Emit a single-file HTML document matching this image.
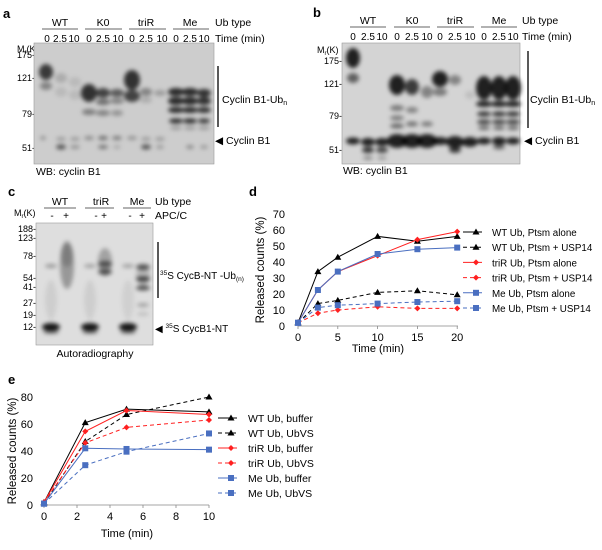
<!DOCTYPE html>
<html><head><meta charset="utf-8"><style>
body{margin:0;background:#fff;}
svg{display:block;font-family:"Liberation Sans",Arial,sans-serif;}
</style></head><body>
<svg id="fig" width="602" height="550" viewBox="0 0 602 550" xmlns="http://www.w3.org/2000/svg">
<defs>
<filter id="bl" x="-50%" y="-50%" width="200%" height="200%"><feGaussianBlur stdDeviation="2.1"/></filter>
</defs>

<!-- Panel a -->
<g font-size="10">
<text x="3" y="18" font-size="13" font-weight="bold">a</text>
<g text-anchor="middle">
<text x="60" y="26" font-size="10.5">WT</text><text x="103" y="26" font-size="10.5">K0</text><text x="146" y="26" font-size="10.5">triR</text><text x="190" y="26" font-size="10.5">Me</text>
<text x="47" y="42">0</text><text x="60" y="42">2.5</text><text x="74" y="42">10</text>
<text x="89" y="42">0</text><text x="103" y="42">2.5</text><text x="118" y="42">10</text>
<text x="132" y="42">0</text><text x="146" y="42">2.5</text><text x="162" y="42">10</text>
<text x="176" y="42">0</text><text x="190" y="42">2.5</text><text x="204" y="42">10</text>
</g>
<g stroke="#333" stroke-width="0.8"><line x1="42" y1="29" x2="78" y2="29"/><line x1="85" y1="29" x2="122" y2="29"/><line x1="129" y1="29" x2="166" y2="29"/><line x1="173" y1="29" x2="209" y2="29"/></g>
<text x="215" y="26" font-size="10.5">Ub type</text><text x="215" y="42" font-size="10.5">Time (min)</text>
<text x="17" y="52" font-size="9">M<tspan font-size="6" dy="2">r</tspan><tspan dy="-2">(K)</tspan></text>
<g text-anchor="end" font-size="9"><text x="35" y="58">175-</text><text x="35" y="81">121-</text><text x="35" y="117">79-</text><text x="35" y="151">51-</text></g>
<rect x="34" y="43" width="180" height="121" fill="#cdcdcd" stroke="#999" stroke-width="0.6"/>
<g id="bandsA" filter="url(#bl)"></g>
<line x1="218" y1="66" x2="218" y2="127" stroke="#000" stroke-width="1.3"/>
<text x="222" y="103" font-size="10.5">Cyclin B1-Ub<tspan font-size="7" dy="2">n</tspan></text>
<text x="215" y="144" font-size="10.5">◀ Cyclin B1</text>
<text x="36" y="175" font-size="10.5">WB: cyclin B1</text>
</g>

<!-- Panel b -->
<g font-size="10">
<text x="313" y="17" font-size="13" font-weight="bold">b</text>
<g text-anchor="middle">
<text x="368" y="24" font-size="10.5">WT</text><text x="412" y="24" font-size="10.5">K0</text><text x="455" y="24" font-size="10.5">triR</text><text x="499" y="24" font-size="10.5">Me</text>
<text x="353" y="40">0</text><text x="368" y="40">2.5</text><text x="382" y="40">10</text>
<text x="397" y="40">0</text><text x="412" y="40">2.5</text><text x="427" y="40">10</text>
<text x="440" y="40">0</text><text x="455" y="40">2.5</text><text x="470" y="40">10</text>
<text x="484" y="40">0</text><text x="499" y="40">2.5</text><text x="513" y="40">10</text>
</g>
<g stroke="#333" stroke-width="0.8"><line x1="350" y1="27" x2="386" y2="27"/><line x1="394" y1="27" x2="430" y2="27"/><line x1="437" y1="27" x2="474" y2="27"/><line x1="481" y1="27" x2="517" y2="27"/></g>
<text x="522" y="24" font-size="10.5">Ub type</text><text x="522" y="40" font-size="10.5">Time (min)</text>
<text x="317" y="53" font-size="9">M<tspan font-size="6" dy="2">r</tspan><tspan dy="-2">(K)</tspan></text>
<g text-anchor="end" font-size="9"><text x="342" y="64">175-</text><text x="342" y="87">121-</text><text x="342" y="119">79-</text><text x="342" y="153">51-</text></g>
<rect x="342" y="43" width="178" height="121" fill="#d4d4d4" stroke="#999" stroke-width="0.6"/>
<g id="bandsB" filter="url(#bl)"></g>
<line x1="528" y1="51" x2="528" y2="128" stroke="#000" stroke-width="1.3"/>
<text x="530" y="103" font-size="10.5">Cyclin B1-Ub<tspan font-size="7" dy="2">n</tspan></text>
<text x="524" y="144" font-size="10.5">◀ Cyclin B1</text>
<text x="343" y="174" font-size="10.5">WB: cyclin B1</text>
</g>

<!-- Panel c -->
<g font-size="10">
<text x="8" y="196" font-size="13" font-weight="bold">c</text>
<g text-anchor="middle" font-size="10.5"><text x="60" y="205">WT</text><text x="101" y="205">triR</text><text x="137" y="205">Me</text></g>
<g stroke="#333" stroke-width="0.8"><line x1="44" y1="208" x2="76" y2="208"/><line x1="85" y1="208" x2="114" y2="208"/><line x1="123" y1="208" x2="151" y2="208"/></g>
<g text-anchor="middle"><text x="52" y="219">-</text><text x="66" y="219">+</text><text x="96" y="219">-</text><text x="104" y="219">+</text><text x="130" y="219">-</text><text x="142" y="219">+</text></g>
<text x="155" y="205" font-size="10.5">Ub type</text><text x="155" y="219" font-size="10.5">APC/C</text>
<text x="14" y="216" font-size="9">M<tspan font-size="6" dy="2">r</tspan><tspan dy="-2">(K)</tspan></text>
<g text-anchor="end" font-size="9"><text x="36" y="232">188-</text><text x="36" y="241">123-</text><text x="36" y="259">78-</text><text x="36" y="281">54-</text><text x="36" y="290">41-</text><text x="36" y="306">27-</text><text x="36" y="318">19-</text><text x="36" y="330">12-</text></g>
<rect x="36" y="223" width="117" height="122" fill="#dedede" stroke="#999" stroke-width="0.6"/>
<g id="bandsC" filter="url(#bl)"></g>
<line x1="158" y1="242" x2="158" y2="298" stroke="#000" stroke-width="1.3"/>
<text x="160" y="279" font-size="10"><tspan font-size="6.5" dy="-4">35</tspan><tspan dy="4">S CycB-NT -Ub</tspan><tspan font-size="6.5" dy="2">(n)</tspan></text>
<text x="155" y="332" font-size="10">◀ <tspan font-size="6.5" dy="-4">35</tspan><tspan dy="4">S CycB1-NT</tspan></text>
<text x="95" y="357" font-size="10.5" text-anchor="middle">Autoradiography</text>
</g>

<!-- Panel d -->
<g id="panelD">
<text x="249" y="196" font-size="13" font-weight="bold">d</text>
<text transform="translate(264,270) rotate(-90)" text-anchor="middle" font-size="11.5">Released counts (%)</text>
<text x="378" y="352" text-anchor="middle" font-size="11">Time (min)</text>
</g>

<!-- Panel e -->
<g id="panelE">
<text x="8" y="384" font-size="13" font-weight="bold">e</text>
<text transform="translate(16,451) rotate(-90)" text-anchor="middle" font-size="11.5">Released counts (%)</text>
<text x="127" y="537" text-anchor="middle" font-size="11">Time (min)</text>
</g>
</svg>
<script>
// ---- Panel d data ----
const dTimes = [0, 2.5, 5, 10, 15, 20];
const dWTalone = [2, 34, 43, 56, 53, 56];
const dWTusp = [2, 14, 16, 21, 22, 19.5];
const dTriRalone = [2, 22.5, 34, 44, 54, 59];
const dTriRusp = [2, 8, 10, 12, 11, 11];
const dMeAlone = [2, 22.5, 34, 45, 48, 49];
const dMeUsp = [2, 11.5, 13, 14, 15, 15.5];
const dYTicks = [0, 10, 20, 30, 40, 50, 60, 70];
const dXTicks = [0, 5, 10, 15, 20];
const dNames = ["WT Ub, Ptsm alone","WT Ub, Ptsm + USP14","triR Ub, Ptsm alone","triR Ub, Ptsm + USP14","Me Ub, Ptsm alone","Me Ub, Ptsm + USP14"];

// ---- Panel e data ----
const eTimes = [0, 2.5, 5, 10];
const eWTbuf = [2, 61, 71, 69];
const eWTvs = [1, 47, 67, 80];
const eTriRbuf = [2, 54.5, 70, 67];
const eTriRvs = [2, 46, 57.5, 63];
const eMeBuf = [1, 42, 41.5, 41];
const eMeVs = [1, 29.5, 39.5, 53];
const eYTicks = [0, 20, 40, 60, 80];
const eXTicks = [0, 2, 4, 6, 8, 10];
const eNames = ["WT Ub, buffer","WT Ub, UbVS","triR Ub, buffer","triR Ub, UbVS","Me Ub, buffer","Me Ub, UbVS"];

const NS = "http://www.w3.org/2000/svg";
function mk(tag, attrs, parent){const e=document.createElementNS(NS,tag);for(const k in attrs)e.setAttribute(k,attrs[k]);parent.appendChild(e);return e;}

const styles = [
 {c:"#000",dash:"",m:"tri"},{c:"#000",dash:"4,3",m:"tri"},
 {c:"#ff2020",dash:"",m:"dia"},{c:"#ff2020",dash:"4,3",m:"dia"},
 {c:"#4a6fc0",dash:"",m:"sq"},{c:"#4a6fc0",dash:"4,3",m:"sq"}];
function marker(g,x,y,s){
 let e;
 if(s.m==="tri") e=mk("polygon",{points:`${x},${y-3.5} ${x-3.5},${y+2.5} ${x+3.5},${y+2.5}`,fill:s.c},g);
 else if(s.m==="sq") e=mk("rect",{x:x-3,y:y-3,width:6,height:6,fill:s.c},g);
 else e=mk("polygon",{points:`${x},${y-3} ${x+3},${y} ${x},${y+3} ${x-3},${y}`,fill:s.c},g);
 return e;
}

function drawChart(gid, times, seriesList, names, yTicks, xTicks, xS, yS, axX0, axX1, axY, legX, legY0, legDy, yLabX, pfx, legFont, legGap){
 const g=document.getElementById(gid);
 const ax=mk("line",{x1:axX0,y1:axY,x2:axX1,y2:axY,stroke:"#888","stroke-width":0.8},g);
 
 
 yTicks.forEach(v=>{const t=mk("text",{x:yLabX,y:yS(v)+4,"text-anchor":"end","font-size":11},g);t.textContent=v;
  
  });
 xTicks.forEach(v=>{mk("line",{x1:xS(v),y1:axY,x2:xS(v),y2:axY+3,stroke:"#888","stroke-width":0.8},g);
  const t=mk("text",{x:xS(v),y:axY+15,"text-anchor":"middle","font-size":11},g);t.textContent=v;
  
  });
 seriesList.forEach((vals,i)=>{
  const s=styles[i];
  const sg=mk("g",{},g);
  
  
  const pts=vals.map((v,j)=>xS(times[j])+","+yS(v)).join(" ");
  mk("polyline",{points:pts,fill:"none",stroke:s.c,"stroke-width":1,"stroke-dasharray":s.dash},sg);
  vals.forEach((v,j)=>{const m=marker(sg,xS(times[j]),yS(v),s);
   
   });
  const ly=legY0+i*legDy;
  const lg=mk("g",{},g);
  
  
  mk("line",{x1:legX,y1:ly,x2:legX+19,y2:ly,stroke:s.c,"stroke-width":1,"stroke-dasharray":s.dash},lg);
  marker(lg,legX+13,ly,s);
  const t=mk("text",{x:legX+legGap,y:ly+4,"font-size":legFont},lg);t.textContent=names[i];
 });
}
drawChart("panelD", dTimes, [dWTalone,dWTusp,dTriRalone,dTriRusp,dMeAlone,dMeUsp], dNames, dYTicks, dXTicks,
 t=>298+7.96*t, v=>326-1.6*v, 298, 458, 326, 463, 232, 15.2, 285, "d", 9.8, 29);
drawChart("panelE", eTimes, [eWTbuf,eWTvs,eTriRbuf,eTriRvs,eMeBuf,eMeVs], eNames, eYTicks, eXTicks,
 t=>44+16.5*t, v=>505-1.35*v, 44, 209, 505, 218, 418, 15, 33, "e", 10.5, 30);

// ---- blot bands [x, y, rx, ry, opacity] ----
const bandsA=[[46,72,7,8,.9],[46,86,6,4,.45],[61,78,6,5,.2],[61,92,6,5,.12],[75,82,6,5,.12],[75,95,6,5,.12],
[89,93,8,9,.95],[89,112,7,3,.5],[103,93,7,5,.85],[103,102,7,3,.6],[103,113,7,3,.45],[117,93,7,4,.7],[117,101,7,3,.45],[117,113,6,3,.35],
[132,80,8,10,.95],[132,96,8,6,.85],[146,92,6,4,.45],[146,100,6,3,.2],[160,93,6,3,.3],
[176,92,8,4,1],[176,101,8,4,1],[176,110,8,3,1],[176,121,7,2.5,1],[176,128,6,2,.3],
[190,92,8,4,1],[190,101,8,4,1],[190,110,8,3,1],[190,121,7,2.5,1],[190,128,6,2,.3],
[204,93,7,4,.95],[204,101,7,4,.95],[204,110,7,3,.95],[204,121,6,2.5,.9],[204,128,6,2,.3],
[43,138,3,2,.35],[61,139,5,2,.3],[75,139,5,2,.3],[89,138,5,2,.4],[103,138,5,2,.6],[117,138,5,2,.5],[132,138,5,2,.35],[146,139,5,2,.3],[160,139,5,2,.3],
[61,147,5,2.5,.75],[75,147,5,2,.35],[103,147,5,2,.55],[117,147,4,2,.2],[146,147,5,2.5,.75],[160,147,4,2,.3],[190,147,4,2,.4],[204,147,4,2,.3]];
const bandsB=[[353,58,7,10,1],[353,78,6,5,.65],[397,85,8,10,1],[397,108,7,3,.5],[397,118,7,2.5,.5],[397,126,7,2.5,.6],
[412,87,7,8,.85],[412,110,6,3,.45],[412,124,6,2.5,.55],[427,92,6,6,.45],[427,124,6,2.5,.5],
[440,79,8,8,1],[440,92,7,4,.5],[455,80,6,5,.45],[470,95,5,4,.12],
[484,88,8,12,1],[484,104,8,3,1],[484,114,7,2.5,.9],[484,122,7,2.5,.8],[484,128,6,2,.6],
[499,88,8,12,1],[499,104,8,3,1],[499,114,7,2.5,.9],[499,122,7,2.5,.8],[499,128,6,2,.6],
[513,88,8,12,1],[513,104,8,3,1],[513,114,7,2.5,.9],[513,122,7,2.5,.8],[513,128,6,2,.6],
[353,141,7,3.5,1],[368,142,7,4,1],[382,142,7,4,1],[397,141,10,7,1],[412,141,10,7,1],[427,141,10,7,1],[440,141,8,4,1],[455,142,9,6,1],[470,142,8,5,1],[484,141,7,3.5,1],[499,141,7,4,1],[513,141,7,3.5,1],
[368,150,6,3,.9],[382,150,6,3,.8],[455,150,6,3,.85],[499,147,6,2.5,.6],[368,158,5,2,.4],[382,158,5,2,.3]];
const bandsC=[[51,327,9,4,1],[51,332,8,2,.5],[90,327,9,4,1],[90,332,8,2,.5],[128,327,9,4,1],[128,332,8,2,.5],
[51,266,6,2,.35],[90,266,6,2,.3],[128,266,6,2,.3],[51,300,6,20,.08],[90,300,6,20,.08],[128,300,6,20,.07],
[67,265,7,24,.35],[67,255,6,12,.2],[105,262,7,14,.3],[105,264,7,3,.6],[105,272,7,3,.6],
[143,267,7,3,.65],[143,276,7,10,.2],[143,279,7,2.5,.75],[143,288,7,2.5,.7],[143,305,6,2,.3],[143,314,6,2,.15]];
function drawBands(id,list,name,k){const g=document.getElementById(id);
 list.forEach(b=>{const e=mk("ellipse",{cx:b[0],cy:b[1],rx:b[2],ry:b[3],fill:"#000","fill-opacity":b[4]*k},g);
  
  });}
drawBands("bandsA",bandsA,"band-a",0.8);
drawBands("bandsB",bandsB,"band-b",0.85);
drawBands("bandsC",bandsC,"band-c",0.9);
</script>
</body></html>
